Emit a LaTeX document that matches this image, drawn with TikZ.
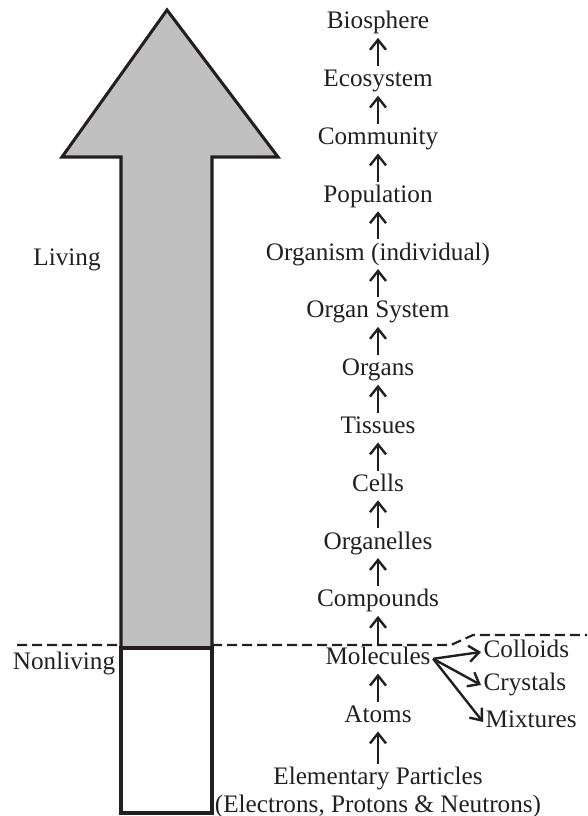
\documentclass[tikz,border=0pt]{standalone}
\usepackage{fontspec}
\setmainfont{Liberation Serif}
\usepackage{tikz}
\usetikzlibrary{arrows.meta,positioning}
\definecolor{inkc}{HTML}{231F20}
\definecolor{shaftc}{HTML}{C0C0C0}
\tikzset{
  >={Straight Barb[length=7.5pt,width=12pt]},
  txt/.style={font=\fontsize{18.9}{21}\selectfont,text=inkc,inner sep=1.8pt},
  lvl/.style={txt,text height=13.6pt,text depth=4.7pt},
  up/.style={->,line width=1.8pt,draw=inkc},
  border/.style={draw=inkc,line width=2.3pt,line join=miter},
  divide/.style={draw=inkc,line width=1.6pt,dash pattern=on 7.5pt off 3.75pt},
}
\begin{document}
\begin{tikzpicture}[x=0.75pt,y=-0.75pt]
  \useasboundingbox (0,0) rectangle (587,816);
  \draw[divide] (17,645) -- (451,645) -- (473,635) -- (587,635);
  \filldraw[border,fill=shaftc] (121,648) -- (121,157) -- (62,157) -- (167,10) -- (278,157) -- (212,157) -- (212,648) -- cycle;
  \filldraw[border,fill=white] (121,648) rectangle (212,813);
  \node[txt] (living) at (67,260) {Living};
  \node[txt] (nonliving) at (64,663) {Nonliving};
  \foreach \t [count=\k from 0] in {Biosphere,Ecosystem,Community,Population,Organism (individual),Organ System,Organs,Tissues,Cells,Organelles,Compounds,Molecules,Atoms}
    \node[lvl] (l\k) at (378,23+\k*57.8) {\t};
  \node[txt,align=center,anchor=north] (elem) at (378,764) {Elementary Particles\\(Electrons, Protons \& Neutrons)};
  \foreach \k [evaluate=\k as \j using int(\k+1)] in {0,...,11}
    \draw[up] (l\j) -- (l\k);
  \draw[up] (elem) -- (l12);
  \node[lvl,anchor=west] (colloids) at (481,652) {Colloids};
  \node[lvl,anchor=west] (crystals) at (481,685) {Crystals};
  \node[lvl,anchor=west] (mixtures) at (483,722) {Mixtures};
  \foreach \b in {colloids,crystals,mixtures}
    \draw[up] (l11.east) -- (\b.west);
\end{tikzpicture}
\end{document}
